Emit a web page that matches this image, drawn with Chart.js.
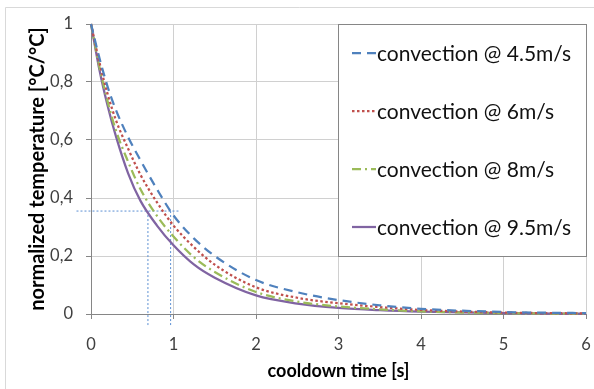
<!DOCTYPE html>
<html>
<head>
<meta charset="utf-8">
<script src="https://cdn.jsdelivr.net/npm/chart.js@4.4.1/dist/chart.umd.min.js"></script>
<style>
  html, body { margin: 0; padding: 0; background: #fff; }
  canvas { display: block; }
</style>
</head>
<body>
<canvas id="coolChart" width="594" height="389"></canvas>
<script>
// Cooldown curves
const timeS   = [0, 0.1, 0.2, 0.3, 0.45, 0.6, 0.8, 1, 1.25, 1.5, 2, 2.5, 3, 3.5, 4, 5, 6];
const conv45  = [1, 0.885, 0.785, 0.705, 0.61, 0.53, 0.43, 0.34, 0.26, 0.2, 0.117, 0.075, 0.048, 0.03, 0.018, 0.007, 0.003];
const conv6   = [1, 0.87, 0.76, 0.67, 0.57, 0.48, 0.385, 0.305, 0.23, 0.17, 0.092, 0.056, 0.037, 0.024, 0.014, 0.005, 0.002];
const conv8   = [1, 0.855, 0.735, 0.635, 0.525, 0.43, 0.338, 0.267, 0.195, 0.145, 0.076, 0.043, 0.026, 0.016, 0.009, 0.003, 0.001];
const conv95  = [1, 0.845, 0.72, 0.615, 0.485, 0.39, 0.305, 0.237, 0.17, 0.125, 0.064, 0.036, 0.021, 0.013, 0.008, 0.003, 0.001];
const seriesLabels = ['convection @ 4.5m/s', 'convection @ 6m/s', 'convection @ 8m/s', 'convection @ 9.5m/s'];

// Helper lines marking the 0.355 level
const guideLevel = 0.355;
const guideXRange = [-0.176, 1.075];
const guideTimes = [0.69, 0.965];
const guideBottom = -0.044;

// Axis ticks
const xTickValues = [0, 1, 2, 3, 4, 5, 6];
const yTickLabels = ['0', '0,2', '0,4', '0,6', '0,8', '1'];

const FONT = 'Lato';

function toPoints(ys) {
    return timeS.map((t, i) => ({ x: t, y: ys[i] }));
}

function curve(label, data, color, dash) {
    return {
        label: label,
        data: toPoints(data),
        borderColor: color,
        backgroundColor: color,
        borderWidth: 2.25,
        borderDash: dash,
        borderCapStyle: 'butt',
        pointRadius: 0,
        cubicInterpolationMode: 'monotone',
        clip: false
    };
}

function guide(points) {
    return {
        label: '',
        data: points,
        borderColor: '#5b8fd3',
        borderWidth: 1,
        borderDash: [2, 2],
        pointRadius: 0,
        tension: 0,
        clip: false
    };
}

const datasets = [
    curve(seriesLabels[0], conv45, '#4f81bd', [9, 6]),
    curve(seriesLabels[1], conv6, '#c0504d', [2.5, 2.5]),
    curve(seriesLabels[2], conv8, '#9bbb59', [9, 4, 2, 4]),
    curve(seriesLabels[3], conv95, '#8064a2', []),
    guide(guideXRange.map(x => ({ x: x, y: guideLevel }))),
    guide([{ x: guideTimes[0], y: guideLevel }, { x: guideTimes[0], y: guideBottom }]),
    guide([{ x: guideTimes[1], y: guideLevel }, { x: guideTimes[1], y: guideBottom }])
];

// White page with the thin chart frame
const chartFrame = {
    id: 'chartFrame',
    beforeDraw(chart) {
        const ctx = chart.ctx;
        ctx.save();
        ctx.fillStyle = '#fff';
        ctx.fillRect(0, 0, chart.width, chart.height);
        ctx.strokeStyle = '#d9d9d9';
        ctx.lineWidth = 1;
        ctx.beginPath();
        ctx.moveTo(5.5, chart.height);
        ctx.lineTo(5.5, 7.5);
        ctx.lineTo(chart.width, 7.5);
        ctx.stroke();
        ctx.restore();
    }
};

// Boxed legend sitting inside the plot, top right
const legendBox = {
    id: 'legendBox',
    afterDatasetsDraw(chart) {
        const { ctx, chartArea } = chart;
        const w = 248, h = 232;
        const left = Math.round(chartArea.right) - w;
        const top = Math.round(chartArea.top);
        ctx.save();
        ctx.fillStyle = '#fff';
        ctx.fillRect(left, top, w, h);
        ctx.strokeStyle = '#868686';
        ctx.lineWidth = 1;
        ctx.strokeRect(left + 0.5, top + 0.5, w, h);
        ctx.font = '21px ' + FONT;
        ctx.textBaseline = 'middle';
        seriesLabels.forEach((label, i) => {
            const ds = chart.data.datasets[i];
            const y = top + 29 + i * 58;
            ctx.beginPath();
            ctx.setLineDash(ds.borderDash);
            ctx.strokeStyle = ds.borderColor;
            ctx.lineWidth = ds.borderWidth;
            ctx.moveTo(left + 14, y);
            ctx.lineTo(left + 38, y);
            ctx.stroke();
            ctx.setLineDash([]);
            ctx.fillStyle = '#111';
            ctx.fillText(label, left + 39, y + 1);
        });
        ctx.restore();
    }
};

new Chart(document.getElementById('coolChart'), {
    type: 'line',
    data: { datasets: datasets },
    plugins: [chartFrame, legendBox],
    options: {
        responsive: false,
        animation: false,
        devicePixelRatio: 1,
        layout: { padding: { top: 24, right: 8, left: 0, bottom: 0 } },
        plugins: {
            legend: { display: false },
            tooltip: { enabled: false }
        },
        scales: {
            x: {
                type: 'linear',
                min: 0,
                max: 6,
                afterBuildTicks: scale => {
                    scale.ticks = xTickValues.map(v => ({ value: v }));
                },
                afterFit: scale => {
                    scale.height = 75;
                    // tick padding is only meant to push labels down
                    scale.paddingLeft = 0;
                    scale.paddingRight = 5;
                },
                grid: { color: '#d0d0d0', tickColor: '#868686', tickLength: 5 },
                border: { color: '#868686' },
                ticks: {
                    color: '#404040',
                    padding: 16,
                    maxRotation: 0,
                    font: { family: FONT, size: 16.5 }
                },
                title: {
                    display: true,
                    text: 'cooldown time [s]',
                    color: '#000',
                    font: { family: FONT, size: 18, weight: 'bold' },
                    padding: { top: 0, bottom: 7 }
                }
            },
            y: {
                min: 0,
                max: 1,
                afterBuildTicks: scale => {
                    scale.ticks = yTickLabels.map((t, i) => ({ value: i * 0.2 }));
                },
                afterFit: scale => { scale.width = 91; },
                grid: { color: '#d0d0d0', tickColor: '#868686', tickLength: 5 },
                border: { color: '#868686' },
                ticks: {
                    color: '#404040',
                    padding: 13,
                    font: { family: FONT, size: 16.5 },
                    callback: (v, i) => yTickLabels[i]
                },
                title: {
                    display: true,
                    text: 'normalized temperature [°C/°C]',
                    color: '#000',
                    font: { family: FONT, size: 20, weight: 'bold' },
                    padding: { top: 26, bottom: 0 }
                }
            }
        }
    }
});
</script>
</body>
</html>
